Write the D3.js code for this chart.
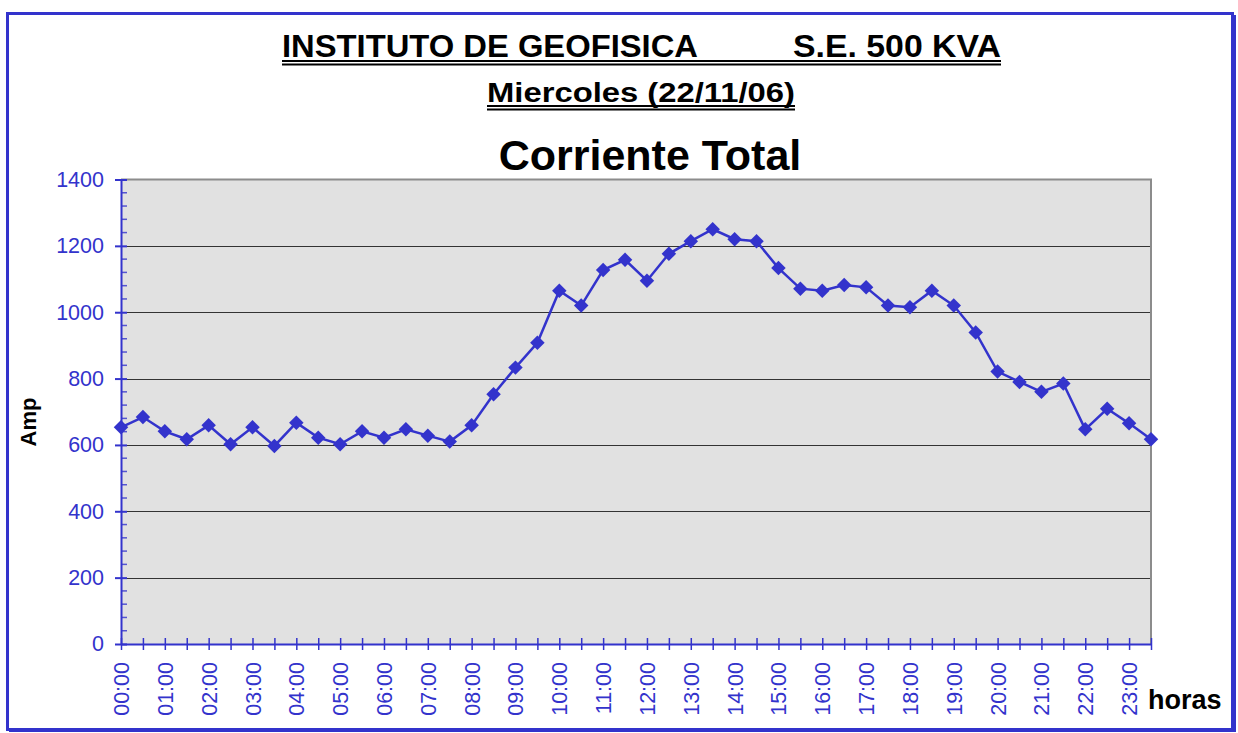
<!DOCTYPE html>
<html>
<head>
<meta charset="utf-8">
<script src="https://cdn.jsdelivr.net/npm/d3@7"></script>
<style>
  body { margin: 0; background: #fff; }
  svg { display: block; font-family: "Liberation Sans", Arial, sans-serif; }
</style>
</head>
<body>
<div id="chart"></div>
<script>
// half-hour readings, 00:00 .. 23:30
const times = d3.range(48).map(i => d3.format('02')(Math.floor(i / 2)) + ':' + (i % 2 ? '30' : '00'));
const hourLabels = ['00:00','01:00','02:00','03:00','04:00','05:00','06:00','07:00','08:00','09:00','10:00','11:00',
                    '12:00','13:00','14:00','15:00','16:00','17:00','18:00','19:00','20:00','21:00','22:00','23:00'];
const amps = [653, 684, 641, 617, 659, 602, 653, 597, 667, 622, 602, 641, 622, 647, 628, 610,
              659, 753, 833, 908, 1065, 1020, 1127, 1158, 1095, 1176, 1214, 1250, 1220, 1214, 1133, 1071,
              1065, 1082, 1075, 1020, 1015, 1065, 1020, 939, 821, 790, 760, 785, 647, 709, 665, 617];
const yTicks = [0, 200, 400, 600, 800, 1000, 1200, 1400];

const width = 1238;
const height = 733;
const blue = '#3333cc';

const svg = d3.select('#chart')
    .append('svg')
    .attr('width', width)
    .attr('height', height);

// frame
svg.append('rect')
    .attr('x', 7.5).attr('y', 13.5)
    .attr('width', 1225).attr('height', 716)
    .attr('fill', '#fff')
    .attr('stroke', blue)
    .attr('stroke-width', 3);
svg.append('path')
    .attr('d', 'M1235,15 V731 H9')
    .attr('fill', 'none')
    .attr('stroke', blue)
    .attr('stroke-width', 2);

// titles
const title = svg.append('g').attr('font-weight', 'bold').attr('fill', '#000');
title.append('text')
    .attr('x', 282).attr('y', 57)
    .attr('font-size', 32)
    .attr('textLength', 416).attr('lengthAdjust', 'spacingAndGlyphs')
    .text('INSTITUTO DE GEOFISICA');
title.append('text')
    .attr('x', 793).attr('y', 57)
    .attr('font-size', 32)
    .attr('textLength', 208).attr('lengthAdjust', 'spacingAndGlyphs')
    .text('S.E. 500 KVA');
title.append('text')
    .attr('x', 487).attr('y', 102)
    .attr('font-size', 28)
    .attr('textLength', 308).attr('lengthAdjust', 'spacingAndGlyphs')
    .text('Miercoles (22/11/06)');
title.append('text')
    .attr('x', 650).attr('y', 170)
    .attr('text-anchor', 'middle')
    .attr('font-size', 43)
    .text('Corriente Total');

// double underlines
[[282, 1001, 61], [282, 1001, 64.5], [487, 795, 106], [487, 795, 109.5]].forEach(u => {
    svg.append('line')
        .attr('x1', u[0]).attr('x2', u[1])
        .attr('y1', u[2]).attr('y2', u[2])
        .attr('stroke', '#000').attr('stroke-width', 2);
});

// plot
const plot = { left: 121, right: 1151, top: 179.5, bottom: 644 };

const xScale = d3.scalePoint()
    .domain(times)
    .range([plot.left, plot.right]);

const yScale = d3.scaleLinear()
    .domain([0, 1400])
    .range([plot.bottom, plot.top]);

svg.append('rect')
    .attr('x', plot.left).attr('y', plot.top)
    .attr('width', plot.right - plot.left)
    .attr('height', plot.bottom - plot.top)
    .attr('fill', '#e1e1e1');

// gridlines
svg.append('g')
    .selectAll('line')
    .data(yTicks.slice(1, -1))
    .enter()
    .append('line')
    .attr('x1', plot.left).attr('x2', plot.right)
    .attr('y1', d => Math.round(yScale(d)) + 0.5)
    .attr('y2', d => Math.round(yScale(d)) + 0.5)
    .attr('stroke', '#333')
    .attr('stroke-width', 1.2);

// plot border top/right
svg.append('path')
    .attr('d', `M${plot.left},${plot.top} H${plot.right} V${plot.bottom}`)
    .attr('fill', 'none')
    .attr('stroke', '#8c8c8c')
    .attr('stroke-width', 2);

// y axis
const yAxis = d3.axisLeft(yScale)
    .tickValues(yTicks)
    .tickFormat(d3.format('d'))
    .tickSizeInner(6)
    .tickSizeOuter(0)
    .tickPadding(11);

const yAxisGroup = svg.append('g')
    .attr('transform', `translate(${plot.left},0)`)
    .call(yAxis);

yAxisGroup.select('.domain').attr('stroke', blue).attr('stroke-width', 2);
yAxisGroup.selectAll('.tick line')
    .attr('x1', 6)
    .attr('stroke', blue).attr('stroke-width', 2);
yAxisGroup.selectAll('.tick text')
    .attr('fill', blue)
    .attr('font-size', 21.5)
    .attr('font-family', '"Liberation Sans", Arial, sans-serif');

// minor y ticks
svg.append('g')
    .selectAll('line')
    .data(d3.range(0, 1400, 40).filter(v => v % 200 !== 0))
    .enter()
    .append('line')
    .attr('x1', plot.left).attr('x2', plot.left + 6)
    .attr('y1', d => yScale(d)).attr('y2', d => yScale(d))
    .attr('stroke', blue).attr('stroke-width', 1.5)
    .attr('opacity', 0.8);

// x axis
const xAxis = d3.axisBottom(xScale)
    .tickSizeInner(6)
    .tickSizeOuter(0)
    .tickFormat(d => hourLabels.includes(d) ? d : '');

const xAxisGroup = svg.append('g')
    .attr('transform', `translate(0,${plot.bottom})`)
    .call(xAxis);

xAxisGroup.select('.domain').attr('stroke', blue).attr('stroke-width', 2);
xAxisGroup.selectAll('.tick line')
    .attr('y1', -6)
    .attr('stroke', blue).attr('stroke-width', 1.5);
xAxisGroup.selectAll('.tick text')
    .attr('fill', blue)
    .attr('font-size', 21.5)
    .attr('font-family', '"Liberation Sans", Arial, sans-serif')
    .attr('text-anchor', 'end')
    .attr('transform', 'rotate(-90)')
    .attr('x', -18)
    .attr('y', 0)
    .attr('dy', '0.35em');

// axis titles
svg.append('text')
    .attr('transform', 'translate(36,422) rotate(-90)')
    .attr('text-anchor', 'middle')
    .attr('font-weight', 'bold')
    .attr('font-size', 22)
    .text('Amp');

svg.append('text')
    .attr('x', 1148).attr('y', 709)
    .attr('font-weight', 'bold')
    .attr('font-size', 27)
    .text('horas');

// series
const line = d3.line()
    .x((d, i) => xScale(times[i]))
    .y(d => yScale(d));

svg.append('path')
    .datum(amps)
    .attr('d', line)
    .attr('fill', 'none')
    .attr('stroke', blue)
    .attr('stroke-width', 2.5);

svg.append('g')
    .selectAll('path')
    .data(amps)
    .enter()
    .append('path')
    .attr('d', d3.symbol(d3.symbolSquare, 105))
    .attr('transform', (d, i) => `translate(${xScale(times[i])},${yScale(d)}) rotate(45)`)
    .attr('fill', blue);
</script>
</body>
</html>
